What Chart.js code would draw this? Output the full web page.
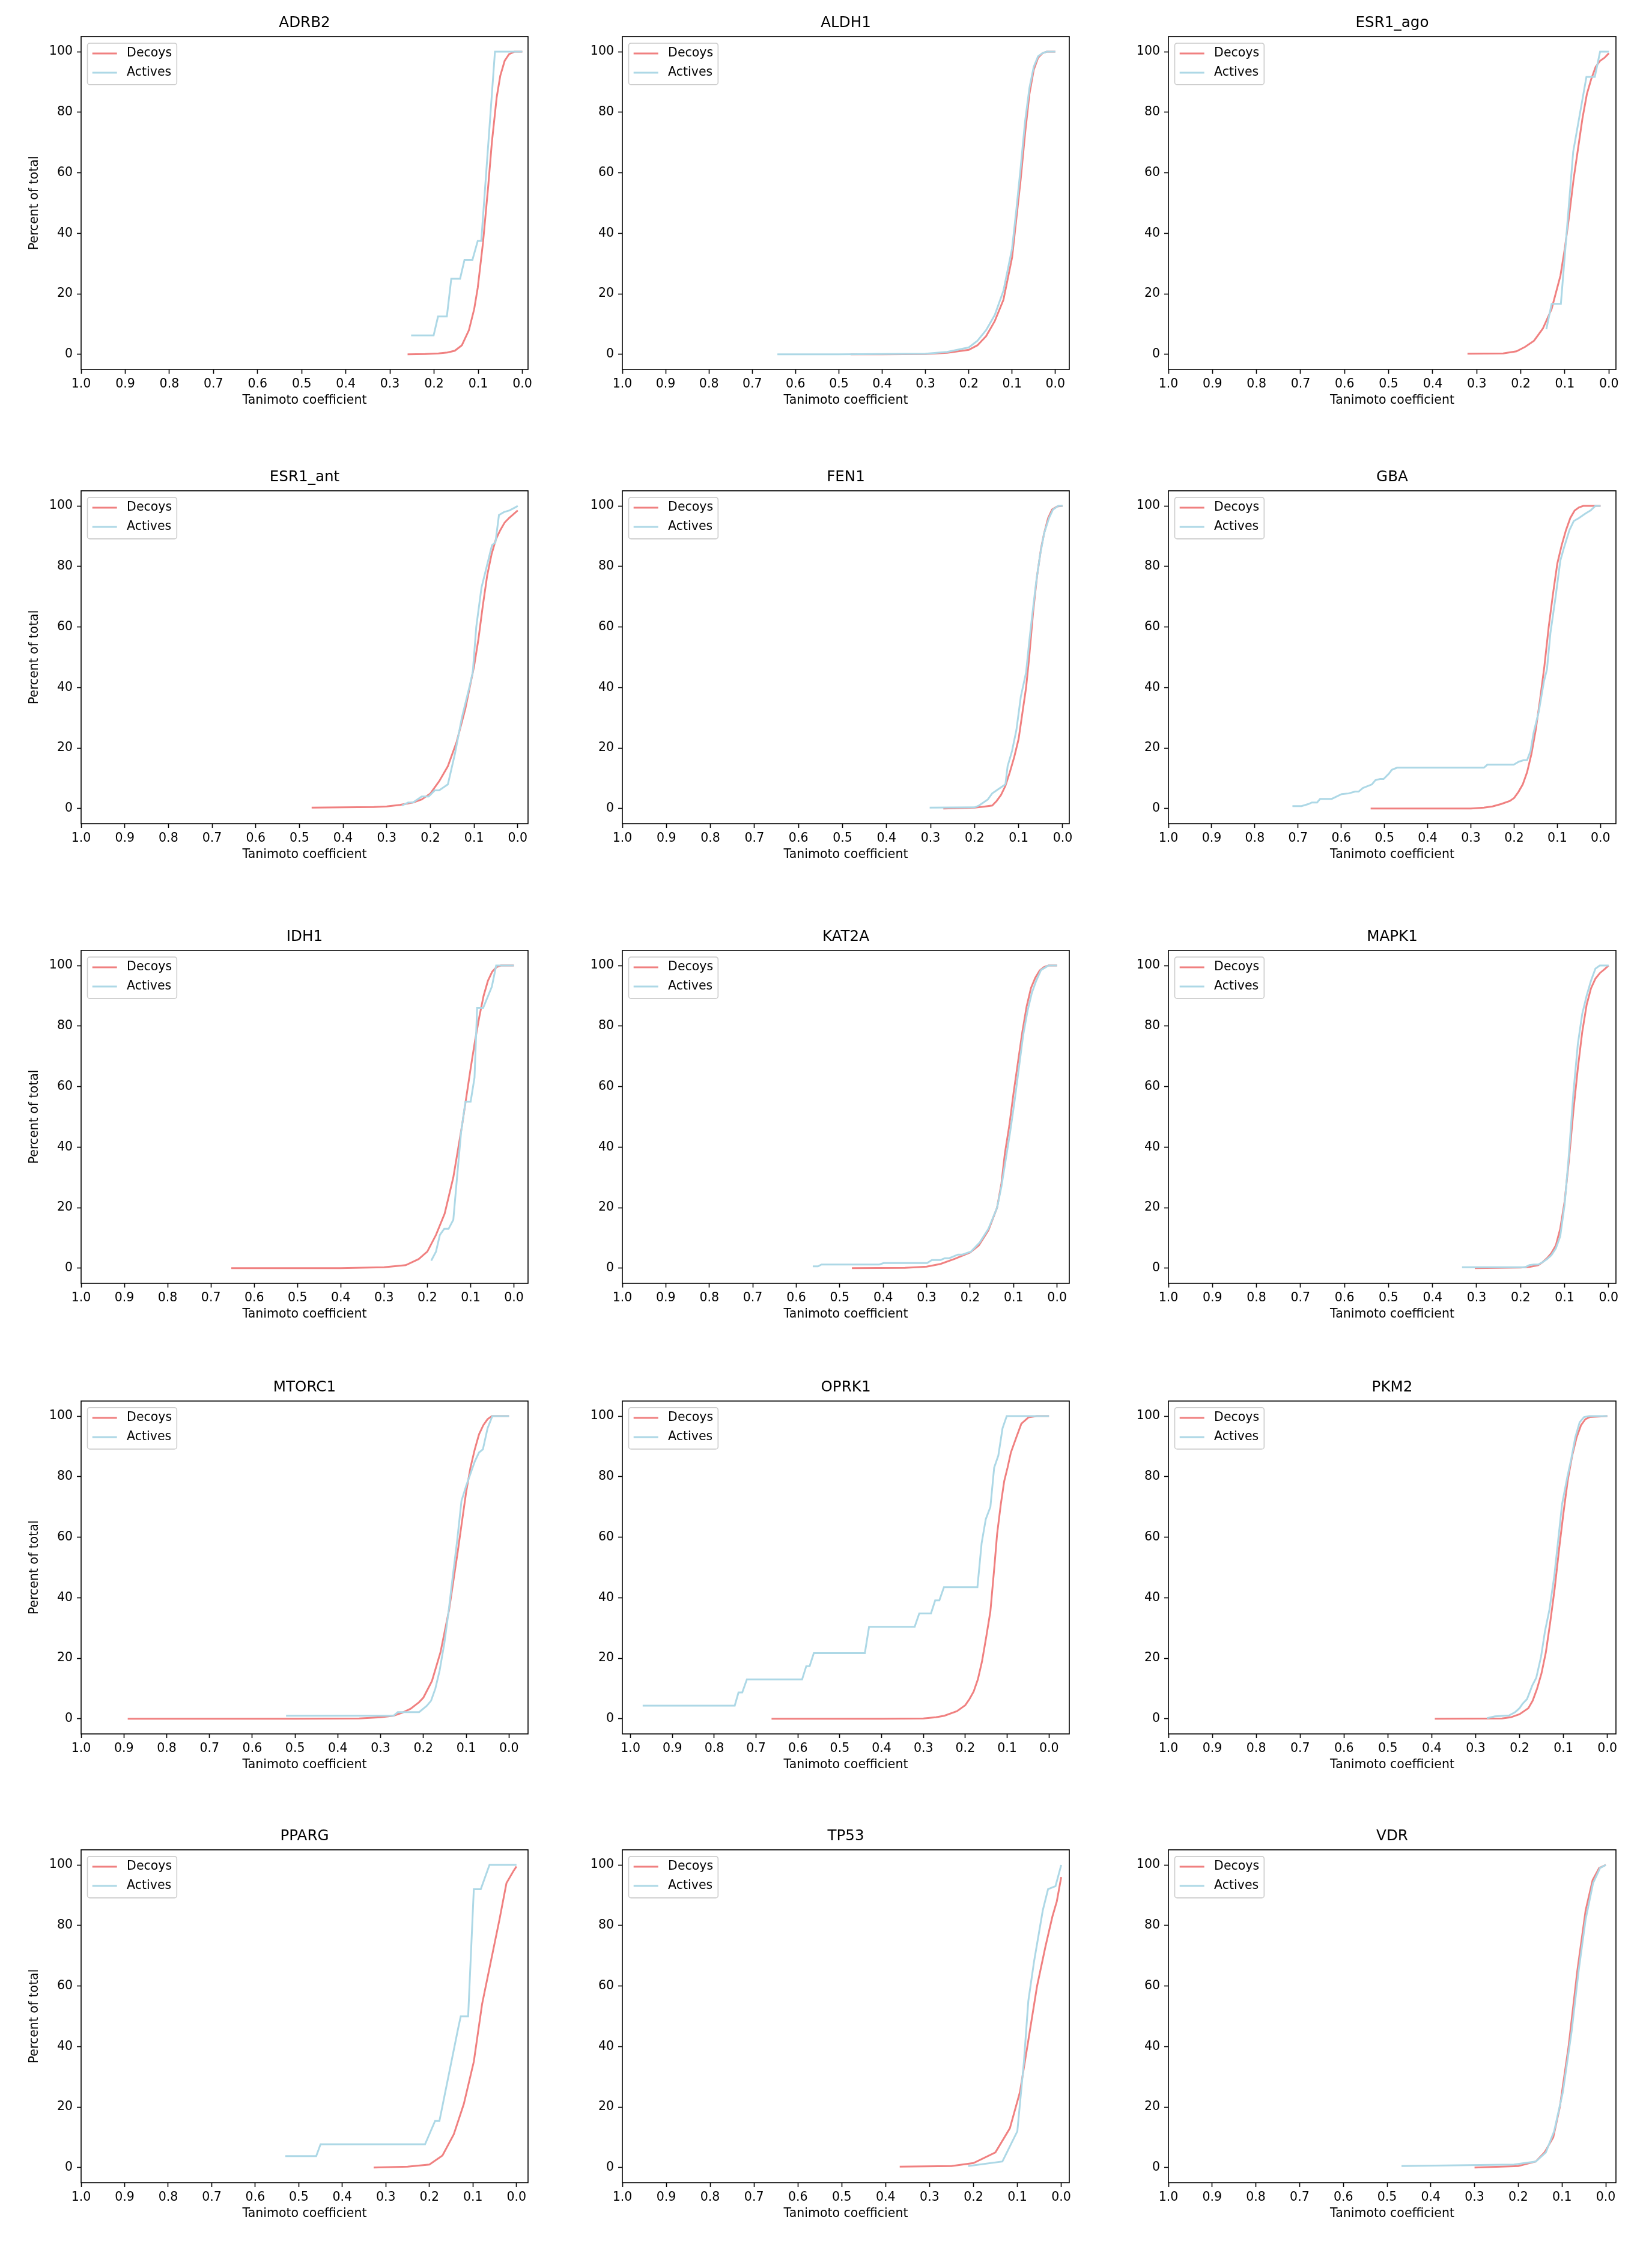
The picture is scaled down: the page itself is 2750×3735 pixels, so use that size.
<!DOCTYPE html>
<html>
<head>
<meta charset="utf-8">
<script src="https://cdn.jsdelivr.net/npm/chart.js@4.4.1/dist/chart.umd.min.js"></script>
<style>
  html, body { margin: 0; padding: 0; background: #fff; }
  #fig { position: relative; width: 2750px; height: 3735px; background: #fff; }
  #fig canvas { position: absolute; }
</style>
</head>
<body>
<div id="fig"></div>
<script>
// tick labels
const xTicks = [1.0, 0.9, 0.8, 0.7, 0.6, 0.5, 0.4, 0.3, 0.2, 0.1, 0.0];
const yTicks = [0, 20, 40, 60, 80, 100];

const targets = ['ADRB2', 'ALDH1', 'ESR1_ago', 'ESR1_ant', 'FEN1', 'GBA', 'IDH1', 'KAT2A',
  'MAPK1', 'MTORC1', 'OPRK1', 'PKM2', 'PPARG', 'TP53', 'VDR'];

// cumulative curves, [tanimoto, percent]
const adrb2Decoys = [[0.26,0],[0.22,0.1],[0.19,0.3],[0.17,0.6],[0.153,1.2],[0.137,3],[0.121,8],[0.109,15],[0.101,22],[0.089,37],[0.077,56],[0.069,70],[0.058,85],[0.05,92],[0.04,97],[0.03,99.2],[0.018,100],[0,100]];
const adrb2Actives = [[0.252,6.25],[0.201,6.25],[0.191,12.5],[0.171,12.5],[0.161,25],[0.141,25],[0.131,31.25],[0.113,31.25],[0.101,37.5],[0.093,37.5],[0.062,100],[0,100]];

const aldh1Decoys = [[0.473,0],[0.4,0],[0.3,0.1],[0.25,0.5],[0.2,1.5],[0.18,3],[0.16,6],[0.14,11],[0.12,18],[0.1,32],[0.09,45],[0.08,58],[0.07,73],[0.06,86],[0.05,94],[0.04,98],[0.03,99.5],[0.02,100],[0,100]];
const aldh1Actives = [[0.642,0],[0.5,0],[0.3,0.2],[0.25,0.8],[0.2,2.3],[0.18,4.5],[0.16,8],[0.14,13],[0.12,21],[0.1,35],[0.09,48],[0.08,62],[0.07,77],[0.06,88],[0.05,95],[0.04,98.5],[0.03,99.5],[0.02,100],[0,100]];

const esr1AgoDecoys = [[0.321,0.2],[0.24,0.3],[0.21,1],[0.19,2.5],[0.17,4.5],[0.15,8.5],[0.13,15],[0.11,26],[0.1,35],[0.09,46],[0.08,58],[0.07,68],[0.06,78],[0.05,86],[0.04,91],[0.03,95],[0.02,97],[0.01,98],[0,99.5]];
const esr1AgoActives = [[0.142,8.3],[0.13,16.7],[0.109,16.7],[0.081,67],[0.051,91.7],[0.032,91.7],[0.02,100],[0,100]];

const esr1AntDecoys = [[0.472,0.3],[0.33,0.5],[0.3,0.7],[0.27,1.2],[0.24,2],[0.22,3],[0.2,5],[0.18,9],[0.16,14],[0.14,22],[0.12,33],[0.1,47],[0.09,56],[0.08,67],[0.07,77],[0.06,84],[0.05,89],[0.04,92],[0.03,94.5],[0.02,96],[0,98.5]];
const esr1AntActives = [[0.265,1],[0.251,2],[0.24,2],[0.22,4],[0.204,4],[0.19,6],[0.18,6],[0.16,8],[0.144,18],[0.128,30],[0.111,40],[0.103,45],[0.095,60],[0.083,73],[0.071,80],[0.059,87],[0.051,88],[0.043,97],[0.031,98],[0.019,98.5],[0.006,99.5],[0,100]];

const fen1Decoys = [[0.271,0],[0.2,0.3],[0.18,0.6],[0.16,1],[0.15,2.5],[0.14,4.5],[0.13,7.5],[0.12,12],[0.11,17],[0.1,23],[0.083,40],[0.076,50],[0.067,65],[0.058,77],[0.049,86],[0.042,91],[0.033,96],[0.024,98.8],[0.013,99.8],[0,100]];
const fen1Actives = [[0.302,0.3],[0.2,0.4],[0.19,1],[0.18,2],[0.17,3],[0.16,5],[0.15,6],[0.14,7],[0.13,8],[0.125,14],[0.115,19],[0.105,26],[0.095,37],[0.083,45],[0.076,55],[0.069,64],[0.06,75],[0.051,84],[0.042,91],[0.031,96],[0.022,98.8],[0.01,100],[0,100]];

const gbaDecoys = [[0.532,0],[0.3,0],[0.27,0.3],[0.25,0.7],[0.23,1.5],[0.21,2.5],[0.2,3.5],[0.19,5.5],[0.18,8],[0.17,12],[0.16,18],[0.15,26],[0.14,36],[0.13,47],[0.12,60],[0.11,71],[0.1,81],[0.09,87],[0.08,92],[0.07,96],[0.06,98.5],[0.05,99.5],[0.04,100],[0,100]];
const gbaActives = [[0.713,0.8],[0.692,0.8],[0.676,1.5],[0.668,2],[0.656,2],[0.649,3.2],[0.622,3.2],[0.599,4.8],[0.583,5],[0.568,5.6],[0.56,5.6],[0.55,6.8],[0.529,8],[0.521,9.4],[0.51,9.8],[0.502,9.8],[0.49,11.5],[0.483,12.8],[0.471,13.5],[0.27,13.5],[0.262,14.5],[0.201,14.5],[0.189,15.5],[0.178,16],[0.17,16],[0.162,19],[0.155,25],[0.143,32],[0.131,42],[0.124,46],[0.116,58],[0.104,70],[0.093,82],[0.085,86],[0.072,92],[0.062,95],[0.05,96],[0.035,97.5],[0.023,98.5],[0.012,100],[0,100]];

const idh1Decoys = [[0.653,0],[0.4,0],[0.3,0.3],[0.25,1],[0.22,3],[0.2,5.5],[0.18,11],[0.16,18],[0.14,30],[0.12,47],[0.1,66],[0.09,75],[0.08,83],[0.07,90],[0.06,95],[0.05,98],[0.04,99.5],[0.03,100],[0,100]];
const idh1Actives = [[0.191,2.5],[0.18,5.5],[0.171,11],[0.161,13],[0.151,13],[0.14,16],[0.132,29],[0.122,45],[0.112,55],[0.1,55],[0.091,63],[0.085,86],[0.071,86],[0.051,93],[0.041,100],[0,100]];

const kat2aDecoys = [[0.472,0],[0.35,0.1],[0.3,0.5],[0.268,1.4],[0.235,3.1],[0.2,5.2],[0.18,7.5],[0.158,12.5],[0.138,20],[0.128,28],[0.12,38],[0.11,47],[0.1,58],[0.09,68],[0.08,78],[0.07,86.5],[0.06,92.6],[0.05,96],[0.04,98.4],[0.03,99.5],[0.02,100],[0,100]];
const kat2aActives = [[0.562,0.6],[0.55,0.6],[0.542,1.2],[0.409,1.2],[0.399,1.7],[0.299,1.7],[0.288,2.7],[0.268,2.7],[0.258,3.3],[0.248,3.3],[0.228,4.5],[0.218,4.5],[0.198,5.5],[0.178,8.5],[0.158,13],[0.148,16.5],[0.138,20],[0.128,27],[0.118,36],[0.108,45],[0.098,55],[0.088,66],[0.078,77],[0.068,85],[0.058,91],[0.048,95],[0.037,98.5],[0.02,100],[0,100]];

const mapk1Decoys = [[0.304,0],[0.2,0.2],[0.18,0.4],[0.16,1],[0.15,2],[0.14,3.3],[0.13,5],[0.12,7.5],[0.11,13],[0.1,22],[0.09,36],[0.08,52],[0.07,66],[0.06,78],[0.05,87],[0.04,92.5],[0.03,95.7],[0.02,97.5],[0.01,98.7],[0,100]];
const mapk1Actives = [[0.333,0.3],[0.19,0.3],[0.18,1],[0.17,1.2],[0.16,1.2],[0.15,2],[0.14,3],[0.13,4.3],[0.12,6.5],[0.11,10.5],[0.1,21],[0.09,38],[0.08,58],[0.07,74],[0.06,84],[0.05,90],[0.04,95],[0.03,99],[0.02,100],[0,100]];

const mtorc1Decoys = [[0.891,0],[0.5,0],[0.35,0.1],[0.3,0.5],[0.27,1],[0.25,2],[0.23,3.3],[0.21,5.5],[0.2,7],[0.18,12.5],[0.16,22],[0.14,36],[0.12,55],[0.11,65],[0.1,75],[0.09,83],[0.08,89],[0.07,94],[0.06,97],[0.05,99],[0.04,100],[0,100]];
const mtorc1Actives = [[0.521,1],[0.27,1],[0.26,2.2],[0.21,2.2],[0.192,4.3],[0.182,6],[0.172,10],[0.162,16],[0.151,25],[0.141,35.6],[0.131,47.5],[0.121,59],[0.111,72],[0.1,77],[0.09,81],[0.08,85],[0.07,88],[0.061,89],[0.05,96],[0.039,100],[0,100]];

const oprk1Decoys = [[0.663,0],[0.4,0],[0.3,0.1],[0.27,0.5],[0.25,1],[0.22,2.5],[0.2,4.5],[0.19,6.5],[0.18,9],[0.17,13],[0.16,19],[0.15,27],[0.14,35.5],[0.13,51],[0.124,61],[0.115,71],[0.107,78.5],[0.099,83],[0.091,88],[0.078,93],[0.066,97.5],[0.049,99.6],[0.029,100],[0,100]];
const oprk1Actives = [[0.971,4.35],[0.751,4.35],[0.742,8.7],[0.733,8.7],[0.722,13],[0.59,13],[0.58,17.4],[0.572,17.4],[0.562,21.7],[0.44,21.7],[0.43,30.4],[0.321,30.4],[0.31,34.8],[0.282,34.8],[0.272,39.1],[0.262,39.1],[0.251,43.5],[0.171,43.5],[0.161,58],[0.151,66],[0.14,70],[0.131,83],[0.121,87],[0.111,96],[0.101,100],[0,100]];

const pkm2Decoys = [[0.393,0],[0.24,0.1],[0.22,0.5],[0.2,1.5],[0.18,3.5],[0.17,6],[0.16,10],[0.15,15],[0.14,22],[0.13,32],[0.12,43],[0.11,56],[0.1,68],[0.09,79],[0.08,87],[0.07,93],[0.06,97],[0.05,99],[0.04,99.7],[0,100]];
const pkm2Actives = [[0.274,0.2],[0.256,0.8],[0.224,1.1],[0.21,2.2],[0.2,3.5],[0.193,5],[0.183,6.5],[0.171,11],[0.162,13.5],[0.151,20.5],[0.142,29],[0.132,36],[0.121,47],[0.112,59],[0.103,71],[0.091,80],[0.082,86],[0.073,93],[0.063,98],[0.053,99.7],[0.041,100],[0,100]];

const ppargDecoys = [[0.328,0],[0.25,0.3],[0.2,1],[0.17,4],[0.144,11],[0.121,21],[0.098,35],[0.079,54],[0.059,68],[0.039,82],[0.023,94],[0.007,98],[0,99.5]];
const ppargActives = [[0.531,3.8],[0.46,3.8],[0.45,7.7],[0.21,7.7],[0.187,15.4],[0.177,15.4],[0.134,46],[0.128,50],[0.111,50],[0.098,92],[0.082,92],[0.062,100],[0,100]];

const tp53Decoys = [[0.368,0.3],[0.25,0.5],[0.2,1.5],[0.15,5],[0.117,13],[0.094,25],[0.075,42],[0.055,60],[0.036,73],[0.02,83],[0.01,88],[0,96]];
const tp53Actives = [[0.212,0.5],[0.134,2],[0.1,12],[0.085,35],[0.075,55],[0.062,68],[0.042,85],[0.03,92],[0.013,93],[0,100]];

const vdrDecoys = [[0.3,0],[0.2,0.5],[0.16,2],[0.14,5],[0.12,10],[0.105,20],[0.085,40],[0.065,65],[0.046,85],[0.03,95],[0.015,99],[0,100]];
const vdrActives = [[0.467,0.5],[0.21,1],[0.16,2],[0.137,5],[0.118,12],[0.098,25],[0.078,45],[0.062,65],[0.046,82],[0.029,94],[0.013,99],[0,100]];

const decoySeries = [adrb2Decoys, aldh1Decoys, esr1AgoDecoys, esr1AntDecoys, fen1Decoys, gbaDecoys, idh1Decoys,
  kat2aDecoys, mapk1Decoys, mtorc1Decoys, oprk1Decoys, pkm2Decoys, ppargDecoys, tp53Decoys, vdrDecoys];
const activeSeries = [adrb2Actives, aldh1Actives, esr1AgoActives, esr1AntActives, fen1Actives, gbaActives, idh1Actives,
  kat2aActives, mapk1Actives, mtorc1Actives, oprk1Actives, pkm2Actives, ppargActives, tp53Actives, vdrActives];

// figure layout (pixels)
const colLeft = [135, 1036, 1945];
const colWidth = [744, 744, 745];
const rowTop = [61, 817, 1582, 2332, 3079];
const plotH = 554;
const padL = 135, padT = 61, padR = 40, padB = 80;

const FONT = 'DejaVu Sans';
const RED = '#f08080';
const BLUE = '#add8e6';

Chart.defaults.font.family = FONT;
Chart.defaults.color = '#000';

// spines on all four sides + matplotlib-like legend box
const framePlugin = {
  id: 'frame',
  afterDraw(chart) {
    const { ctx, chartArea: a } = chart;
    ctx.save();
    ctx.strokeStyle = '#000';
    ctx.lineWidth = 1.6;
    ctx.strokeRect(a.left, a.top, a.right - a.left, a.bottom - a.top);

    ctx.font = '20.5px "' + FONT + '"';
    const items = chart.data.datasets;
    const textW = Math.max(...items.map(d => ctx.measureText(d.label).width));
    const x0 = a.left + 10.5, y0 = a.top + 11;
    const w = 8.2 + 41 + 16.4 + textW + 8.2, h = 69;
    ctx.beginPath();
    ctx.roundRect(x0, y0, w, h, 4);
    ctx.fillStyle = 'rgba(255,255,255,0.8)';
    ctx.fill();
    ctx.strokeStyle = '#cccccc';
    ctx.lineWidth = 1.6;
    ctx.stroke();
    items.forEach((d, i) => {
      const cy = y0 + 17 + i * 32;
      ctx.beginPath();
      ctx.moveTo(x0 + 8.2, cy);
      ctx.lineTo(x0 + 8.2 + 41, cy);
      ctx.strokeStyle = d.borderColor;
      ctx.lineWidth = 3;
      ctx.stroke();
      ctx.fillStyle = '#000';
      ctx.textBaseline = 'middle';
      ctx.textAlign = 'left';
      ctx.fillText(d.label, x0 + 8.2 + 41 + 16.4, cy);
    });
    ctx.restore();
  }
};

const fig = document.getElementById('fig');

targets.forEach((name, i) => {
  const r = Math.floor(i / 3), c = i % 3;
  const decoys = decoySeries[i], actives = activeSeries[i];
  const xmax = Math.max(...decoys.map(p => p[0]), ...actives.map(p => p[0]));
  const W = padL + colWidth[c] + padR, H = padT + plotH + padB;

  const canvas = document.createElement('canvas');
  canvas.width = W;
  canvas.height = H;
  canvas.style.left = (colLeft[c] - padL) + 'px';
  canvas.style.top = (rowTop[r] - padT) + 'px';
  fig.appendChild(canvas);

  new Chart(canvas.getContext('2d'), {
    type: 'line',
    data: {
      datasets: [
        { label: 'Decoys', data: decoys.map(p => ({ x: p[0], y: p[1] })), borderColor: RED, order: 1 },
        { label: 'Actives', data: actives.map(p => ({ x: p[0], y: p[1] })), borderColor: BLUE, order: 0 }
      ]
    },
    options: {
      responsive: false,
      animation: false,
      devicePixelRatio: 1,
      layout: { padding: { top: 23.7, left: 0, right: padR, bottom: 0 } },
      elements: {
        point: { radius: 0 },
        line: { borderWidth: 3, tension: 0, fill: false }
      },
      plugins: {
        legend: { display: false },
        tooltip: { enabled: false },
        title: {
          display: true,
          fullSize: false, // centre over the plot area, like matplotlib
          text: name,
          color: '#000',
          font: { size: 24.6, weight: 'normal', family: FONT },
          padding: { top: 0, bottom: 7.7 }
        }
      },
      scales: {
        x: {
          type: 'linear',
          reverse: true,
          min: -0.05 * xmax,
          max: Math.max(1.0, 1.05 * xmax),
          afterBuildTicks: s => { s.ticks = xTicks.map(v => ({ value: v })); },
          afterFit: s => { s.height = padB; },
          ticks: { autoSkip: false, maxRotation: 0, padding: 5.5, font: { size: 20.5 }, color: '#000',
            callback: v => Number(v).toFixed(1) },
          grid: { drawOnChartArea: false, drawTicks: true, tickLength: 7, tickWidth: 1.6, tickColor: '#000' },
          border: { display: false },
          title: { display: true, text: 'Tanimoto coefficient', color: '#000',
            font: { size: 20.5 }, padding: { top: 0, bottom: 15.7 } }
        },
        y: {
          type: 'linear',
          min: -5,
          max: 105,
          afterBuildTicks: s => { s.ticks = yTicks.map(v => ({ value: v })); },
          afterFit: s => { s.width = padL; },
          ticks: { autoSkip: false, padding: 7, font: { size: 20.5 }, color: '#000' },
          grid: { drawOnChartArea: false, drawTicks: true, tickLength: 7, tickWidth: 1.6, tickColor: '#000' },
          border: { display: false },
          title: { display: c === 0, text: 'Percent of total', color: '#000',
            font: { size: 20.5 }, padding: { top: 45.2, bottom: 0 } }
        }
      }
    },
    plugins: [framePlugin]
  });
});
</script>
</body>
</html>
